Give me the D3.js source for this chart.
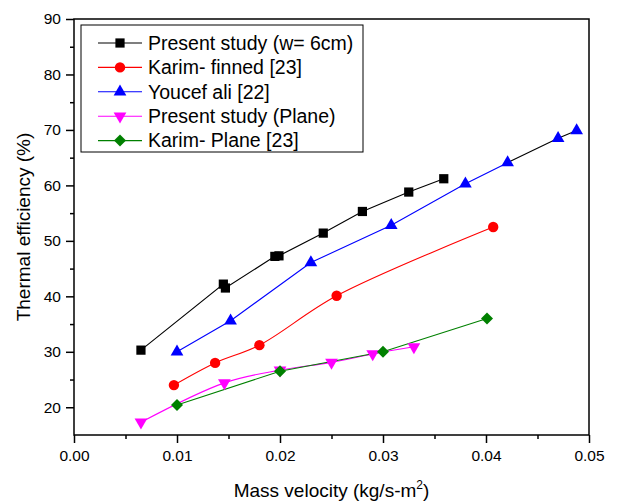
<!DOCTYPE html>
<meta charset="utf-8">
<style>
body { margin: 0; background: #fff; }
svg text { font-family: "Liberation Sans", Arial, sans-serif; fill: #000; }
.frame { fill: none; stroke: #000; stroke-width: 1.5; }
.axis path { stroke: #000; stroke-width: 1.5; }
.axis line { stroke: #000; stroke-width: 1.5; }
.axis text { font-size: 15.5px; }
.series { fill: none; stroke-width: 1.1; }
</style>
<body></body>
<script src="https://d3js.org/d3.v7.min.js"></script>
<script>
// x = mass velocity (kg/s-m2), y = thermal efficiency (%)
var presentFinX = [0.0065, 0.0145, 0.0147, 0.0195, 0.0199, 0.0242, 0.0280, 0.0325, 0.0359];
var presentFinY = [30.3, 42.2, 41.5, 47.2, 47.3, 51.4, 55.3, 58.8, 61.2];

var karimFinX = [0.0097, 0.0137, 0.0180, 0.0255, 0.0407];
var karimFinY = [24.0, 28.0, 31.2, 40.1, 52.5];

var youcefX = [0.0100, 0.0152, 0.0230, 0.0308, 0.0380, 0.0421, 0.0470, 0.0488];
var youcefY = [30.0, 35.6, 46.1, 52.8, 60.3, 64.1, 68.5, 69.9];

var presentPlaneX = [0.0065, 0.0146, 0.0200, 0.0250, 0.0290, 0.0330];
var presentPlaneY = [17.3, 24.4, 26.7, 28.1, 29.6, 30.9];

var karimPlaneX = [0.0100, 0.0200, 0.0300, 0.0401];
var karimPlaneY = [20.4, 26.5, 30.0, 36.0];

var xTicks = [0, 0.01, 0.02, 0.03, 0.04, 0.05];
var yTicks = [20, 30, 40, 50, 60, 70, 80, 90];

function zip(xs, ys) { return xs.map(function(v, i) { return {x: v, y: ys[i]}; }); }

var smooth = d3.curveCatmullRom.alpha(0.5);

var series = [
  {name: "Present study (w= 6cm)", data: zip(presentFinX, presentFinY), color: "#000000", shape: "square", curve: d3.curveLinear},
  {name: "Karim- finned [23]", data: zip(karimFinX, karimFinY), color: "#ff0000", shape: "circle", curve: smooth},
  {name: "Youcef ali [22]", data: zip(youcefX, youcefY), color: "#0000ff", shape: "up", curve: d3.curveLinear, darkFrom: 5},
  {name: "Present study (Plane)", data: zip(presentPlaneX, presentPlaneY), color: "#ff00ff", shape: "down", curve: smooth},
  {name: "Karim- Plane [23]", data: zip(karimPlaneX, karimPlaneY), color: "#008000", shape: "diamond", curve: d3.curveLinear}
];

var pLeft = 74, pRight = 589, pTop = 19, pBottom = 435;

var svg = d3.select("body").append("svg")
    .attr("width", 620)
    .attr("height", 501);

var x = d3.scaleLinear().domain([0, 0.05]).range([pLeft, pRight]);
var y = d3.scaleLinear().domain([15, 90]).range([pBottom, pTop]);

// minor ticks
svg.append("g")
    .attr("class", "axis")
    .attr("transform", "translate(0," + pBottom + ")")
    .call(d3.axisBottom(x).tickValues(d3.range(0.005, 0.05, 0.01)).tickSize(4).tickFormat(""))
    .select(".domain").remove();
svg.append("g")
    .attr("class", "axis")
    .attr("transform", "translate(" + pLeft + ",0)")
    .call(d3.axisLeft(y).tickValues(d3.range(25, 90, 10)).tickSize(4).tickFormat(""))
    .select(".domain").remove();

// major ticks
svg.append("g")
    .attr("class", "axis")
    .attr("transform", "translate(0," + pBottom + ")")
    .call(d3.axisBottom(x).tickValues(xTicks).tickSize(8).tickPadding(7).tickFormat(d3.format(".2f")))
    .select(".domain").remove();
svg.append("g")
    .attr("class", "axis")
    .attr("transform", "translate(" + pLeft + ",0)")
    .call(d3.axisLeft(y).tickValues(yTicks).tickSize(8).tickPadding(5))
    .select(".domain").remove();

// plot frame
svg.append("rect")
    .attr("class", "frame")
    .attr("x", pLeft).attr("y", pTop)
    .attr("width", pRight - pLeft).attr("height", pBottom - pTop);

function symbolPath(shape) {
  if (shape === "square") return d3.symbol(d3.symbolSquare, 85)();
  if (shape === "circle") return d3.symbol(d3.symbolCircle, 85)();
  if (shape === "diamond") return d3.symbol(d3.symbolSquare, 72)();
  return d3.symbol(d3.symbolTriangle, 70)();
}
function symbolRotate(shape) {
  if (shape === "diamond") return 45;
  if (shape === "down") return 180;
  return 0;
}

var plot = svg.append("g");

series.forEach(function(s) {
  var line = d3.line().x(function(d) { return x(d.x); }).y(function(d) { return y(d.y); }).curve(s.curve);
  if (s.darkFrom !== undefined) {
    plot.append("path").attr("class", "series").attr("stroke", s.color)
        .attr("d", line(s.data.slice(0, s.darkFrom + 1)));
    plot.append("path").attr("class", "series").attr("stroke", "#000")
        .attr("d", line(s.data.slice(s.darkFrom)));
  } else {
    plot.append("path").attr("class", "series").attr("stroke", s.color).attr("d", line(s.data));
  }
});

series.forEach(function(s) {
  plot.selectAll(null)
      .data(s.data)
      .enter().append("path")
      .attr("d", symbolPath(s.shape))
      .attr("fill", s.color)
      .attr("transform", function(d) {
        return "translate(" + x(d.x) + "," + y(d.y) + ") rotate(" + symbolRotate(s.shape) + ")";
      });
});

// legend
var legend = svg.append("g");
legend.append("rect")
    .attr("x", 81).attr("y", 25).attr("width", 282).attr("height", 127)
    .attr("fill", "#fff").attr("stroke", "#000").attr("stroke-width", 1);

series.forEach(function(s, i) {
  var ly = 43 + i * 24.4;
  legend.append("line")
      .attr("x1", 98).attr("x2", 142).attr("y1", ly).attr("y2", ly)
      .attr("stroke", s.color).attr("stroke-width", 1.1);
  legend.append("path")
      .attr("d", symbolPath(s.shape))
      .attr("fill", s.color)
      .attr("transform", "translate(120," + ly + ") rotate(" + symbolRotate(s.shape) + ")");
  legend.append("text")
      .attr("x", 148).attr("y", ly)
      .attr("dy", "0.35em")
      .style("font-size", "19.5px")
      .text(s.name);
});

// axis titles
var xt = svg.append("text")
    .attr("x", (pLeft + pRight) / 2).attr("y", 497)
    .attr("text-anchor", "middle")
    .style("font-size", "19px");
xt.append("tspan").text("Mass velocity (kg/s-m");
xt.append("tspan").attr("dy", -8).style("font-size", "12px").text("2");
xt.append("tspan").attr("dy", 8).text(")");

svg.append("text")
    .attr("transform", "translate(30," + ((pTop + pBottom) / 2) + ") rotate(-90)")
    .attr("text-anchor", "middle")
    .style("font-size", "19px")
    .text("Thermal efficiency (%)");
</script>
